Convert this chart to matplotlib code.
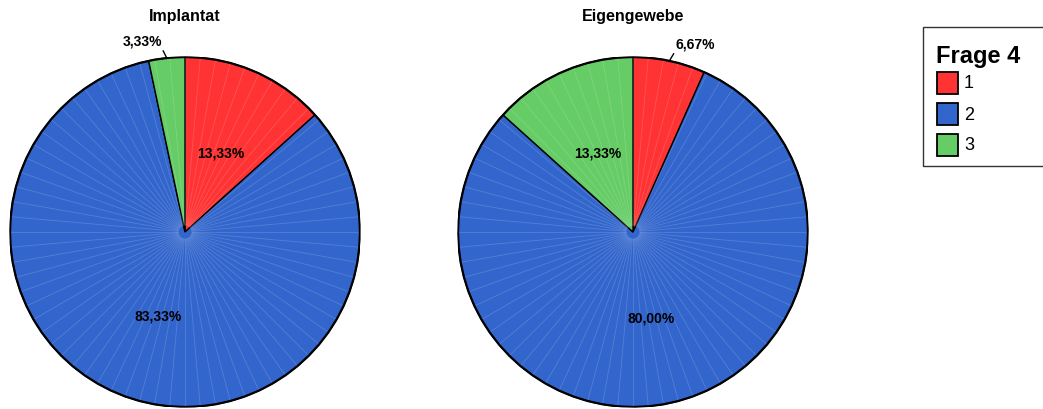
import numpy as np
import matplotlib
matplotlib.use("Agg")
import matplotlib.pyplot as plt
from matplotlib.patches import Rectangle

plt.rcParams["font.family"] = ["Liberation Sans", "DejaVu Sans"]

# Frage 4 answers, percent of respondents
categories = ["1", "2", "3"]
implantat = [13.33, 83.33, 3.33]
eigengewebe = [6.67, 80.00, 13.33]
titles = ["Implantat", "Eigengewebe"]
colors = ["#FF3333", "#3366CC", "#66CC66"]

W, H = 1043, 410
fig = plt.figure(figsize=(W / 100, H / 100), dpi=100)

# pie axes: centre x in px, radius 175, top edge at y=58
centers = [185, 633]
r_px = 175

for cx, values, title in zip(centers, [implantat, eigengewebe], titles):
    ax = fig.add_axes([(cx - r_px) / W, (H - 58 - 2 * r_px) / H, 2 * r_px / W, 2 * r_px / H])
    wedges, _ = ax.pie(
        values,
        colors=colors,
        startangle=90,
        counterclock=False,
        radius=1,
        wedgeprops=dict(edgecolor="black", linewidth=1.0),
    )

    # thin light radial lines inside the pie
    for a in np.linspace(0, 2 * np.pi, 72, endpoint=False):
        ax.plot([0.04 * np.cos(a), np.cos(a)], [0.04 * np.sin(a), np.sin(a)],
                color="white", lw=0.6, alpha=0.16, zorder=3)

    # black outline round the whole pie
    t = np.linspace(0, 2 * np.pi, 73)
    ax.plot(np.cos(t), np.sin(t), color="black", lw=1.6, zorder=4)

    # percentage labels
    total = sum(values)
    start = 90.0
    for v in values:
        pct = v / total * 100
        mid = np.deg2rad(start - pct * 3.6 / 2)
        dx, dy = np.cos(mid), np.sin(mid)
        text = f"{v:.2f}%".replace(".", ",")
        if pct < 10:
            right = dx > 0
            ax.annotate(
                text,
                xy=(dx, dy),
                xytext=(6 if right else -5, 10),
                textcoords="offset pixels",
                ha="left" if right else "right", va="bottom",
                fontsize=10, fontweight="bold",
                arrowprops=dict(arrowstyle="-", color="black", lw=1.0,
                                shrinkA=0, shrinkB=0,
                                relpos=(0, 0) if right else (1, 0)),
                annotation_clip=False, zorder=5,
            )
        else:
            ax.text(dx * 0.5, dy * 0.5, text, ha="center", va="center",
                    fontsize=10, fontweight="bold", zorder=5)
        start -= pct * 3.6

    ax.set_xlim(-1, 1)
    ax.set_ylim(-1, 1)
    ax.set_aspect("auto")
    ax.axis("off")

    fig.text(cx / W, 1 - 17 / H, title, ha="center", va="center",
             fontsize=11.5, fontweight="bold")

# legend box, drawn in pixel coordinates (runs off the right edge)
def px(x, y):
    return x / W, 1 - y / H

fig.patches.append(Rectangle(px(923, 167), 140 / W, 139 / H, transform=fig.transFigure,
                             facecolor="white", edgecolor="#333333", lw=1.0))
fig.text(*px(936, 56), "Frage 4", fontsize=17, fontweight="bold",
         ha="left", va="center")
for i, (lab, col) in enumerate(zip(categories, colors)):
    top = 73 + i * 31
    fig.patches.append(Rectangle(px(937, top + 22), 21 / W, 22 / H, transform=fig.transFigure,
                                 facecolor=col, edgecolor="black", lw=1.3))
    fig.text(*px(964, top + 11), lab, fontsize=13, ha="left", va="center")

fig.savefig("out.png", dpi=100)
